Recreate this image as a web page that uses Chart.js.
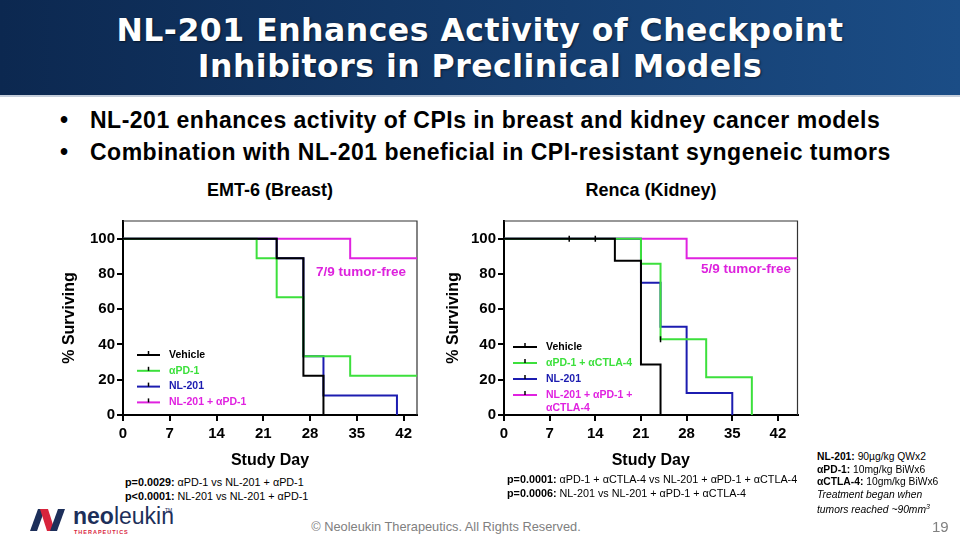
<!DOCTYPE html>
<html>
<head>
<meta charset="utf-8">
<script src="https://cdn.jsdelivr.net/npm/chart.js@4.4.0/dist/chart.umd.min.js"></script>
<style>
  body { margin: 0; width: 960px; height: 540px; position: relative; overflow: hidden; background: #fff;
         font-family: "Liberation Sans", Arial, sans-serif; }
  .abs { position: absolute; white-space: nowrap; }
  #header { left: 0; top: 0; width: 960px; height: 95px; background: linear-gradient(90deg, #0c2850, #1b4d86);
            border-bottom: 2px solid #c5cedb; }
  #title { left: 0; top: 12px; width: 960px; text-align: center; color: #fff; font-family: "DejaVu Sans", sans-serif;
           font-weight: bold; font-size: 31.5px; line-height: 36px; letter-spacing: 0.5px;
           text-shadow: 1px 1px 2px rgba(0, 0, 0, 0.55); }
  .bullet { left: 60px; font-weight: bold; font-size: 23px; line-height: 28px; letter-spacing: 0.5px; color: #000; }
  .bullet span { display: inline-block; width: 30px; }
  .ctitle { width: 300px; text-align: center; font-weight: bold; font-size: 18px; line-height: 22px; }
  .tf { font-weight: bold; font-size: 13.5px; line-height: 16px; color: #dd22dd; }
  .pv { font-size: 10.8px; line-height: 14px; color: #000; }
  .note { left: 817px; font-size: 10.3px; line-height: 12.5px; color: #000; }
  canvas { position: absolute; }
</style>
</head>
<body>
<div id="header" class="abs"></div>
<div id="title" class="abs">NL-201 Enhances Activity of Checkpoint<br>Inhibitors in Preclinical Models</div>

<div class="abs bullet" style="top:106px"><span>•</span>NL-201 enhances activity of CPIs in breast and kidney cancer models</div>
<div class="abs bullet" style="top:137.5px"><span>•</span>Combination with NL-201 beneficial in CPI-resistant syngeneic tumors</div>

<div class="abs ctitle" style="left:120px; top:179px">EMT-6 (Breast)</div>
<div class="abs ctitle" style="left:501px; top:179px">Renca (Kidney)</div>

<canvas id="emtChart" width="371" height="265" style="left:50px; top:210px"></canvas>
<canvas id="renChart" width="373" height="265" style="left:430px; top:210px"></canvas>

<div class="abs tf" style="left:316px; top:264px">7/9 tumor-free</div>
<div class="abs tf" style="left:701px; top:261px">5/9 tumor-free</div>

<div class="abs pv" style="left:125px; top:475px"><b>p=0.0029:</b> αPD-1 vs NL-201 + αPD-1</div>
<div class="abs pv" style="left:125px; top:489px"><b>p&lt;0.0001:</b> NL-201 vs NL-201 + αPD-1</div>
<div class="abs pv" style="left:507px; top:472px"><b>p=0.0001:</b> αPD-1 + αCTLA-4 vs NL-201 + αPD-1 + αCTLA-4</div>
<div class="abs pv" style="left:507px; top:486px"><b>p=0.0006:</b> NL-201 vs NL-201 + αPD-1 + αCTLA-4</div>

<div class="abs note" style="top:451px"><b>NL-201:</b> 90µg/kg QWx2</div>
<div class="abs note" style="top:463.5px"><b>αPD-1:</b> 10mg/kg BiWx6</div>
<div class="abs note" style="top:476px"><b>αCTLA-4:</b> 10gm/kg BiWx6</div>
<div class="abs note" style="top:488.5px"><i>Treatment began when</i></div>
<div class="abs note" style="top:501px"><i>tumors reached ~90mm<sup style="font-size:7px">3</sup></i></div>

<svg class="abs" style="left:28px; top:503px" width="150" height="34" viewBox="0 0 150 34">
  <polygon points="2,28 10,6 17,6 9,28" fill="#1d2f5a"/>
  <polygon points="12,6 20,6 27,28 19,28" fill="#d8243c"/>
  <polygon points="22,28 30,6 37,6 29,28" fill="#1d2f5a"/>
  <text x="45" y="21" font-family="Liberation Sans, Arial, sans-serif" font-size="23" fill="#1d2f5a" font-weight="bold">neo<tspan font-weight="normal">leukin</tspan></text>
  <text x="137" y="9" font-family="Liberation Sans, Arial, sans-serif" font-size="5" fill="#1d2f5a">TM</text>
  <text x="46" y="31" font-family="Liberation Sans, Arial, sans-serif" font-size="5.5" fill="#d8243c" font-weight="bold" letter-spacing="1">THERAPEUTICS</text>
</svg>
<div class="abs" style="left:0; width:892px; text-align:center; top:519px; font-size:12.8px; color:#808080">© Neoleukin Therapeutics. All Rights Reserved.</div>
<div class="abs" style="left:932px; top:518px; font-size:15px; color:#808080">19</div>

<script>
// shared axis ticks
const dayTicks = [0, 7, 14, 21, 28, 35, 42];
const survTicks = [0, 20, 40, 60, 80, 100];

// EMT-6 (Breast) - Kaplan-Meier steps
const emtLabels = ['Vehicle', 'αPD-1', 'NL-201', 'NL-201 + αPD-1'];
const emtVehicleDays = [0, 23, 27, 30];
const emtVehicleSurv = [100, 88.9, 22.2, 0];
const emtPd1Days = [0, 20, 23, 27, 34, 44];
const emtPd1Surv = [100, 88.9, 66.7, 33.3, 22.2, 22.2];
const emtNlDays = [0, 23, 27, 30, 41];
const emtNlSurv = [100, 88.9, 33.3, 11.1, 0];
const emtComboDays = [0, 34, 44];
const emtComboSurv = [100, 88.9, 88.9];

// Renca (Kidney)
const renLabels = ['Vehicle', 'αPD-1 + αCTLA-4', 'NL-201', ['NL-201 + αPD-1 +', 'αCTLA-4']];
const renVehicleDays = [0, 17, 21, 24];
const renVehicleSurv = [100, 87.5, 28.6, 0];
const renCpiDays = [0, 21, 24, 31, 38];
const renCpiSurv = [100, 85.7, 42.9, 21.4, 0];
const renNlDays = [0, 21, 24, 28, 35];
const renNlSurv = [100, 75, 50, 12.5, 0];
const renComboDays = [0, 28, 45];
const renComboSurv = [100, 88.9, 88.9];
// censored observations (tick marks)
const renCensorDays = [10, 14, 24];
const renCensorSurv = [100, 100, 42.9];

const colors = ['#000000', '#3ce03c', '#1c1cb0', '#e022e0'];
const FONT = '"Liberation Sans", Arial, sans-serif';

const toPoints = (days, surv) => days.map((d, i) => ({ x: d, y: surv[i] }));

// legend drawn inside the plot, GraphPad style
const kmLegend = {
  id: 'kmLegend',
  afterDatasetsDraw(chart, args, opts) {
    const { ctx, chartArea } = chart;
    ctx.save();
    ctx.font = 'bold 10.5px ' + FONT;
    ctx.textBaseline = 'middle';
    let y = chartArea.top + opts.top;
    chart.data.datasets.forEach(ds => {
      if (!ds.label) return;
      const x0 = chartArea.left + opts.lineStart;
      ctx.strokeStyle = ds.borderColor;
      ctx.lineWidth = 2;
      ctx.beginPath();
      ctx.moveTo(x0, y);
      ctx.lineTo(x0 + opts.lineLen, y);
      ctx.stroke();
      ctx.strokeStyle = '#000';
      ctx.lineWidth = 1.5;
      ctx.beginPath();
      ctx.moveTo(x0 + opts.lineLen / 2, y);
      ctx.lineTo(x0 + opts.lineLen / 2, y - 4);
      ctx.stroke();
      ctx.fillStyle = ds.borderColor;
      [].concat(ds.label).forEach((t, i) => ctx.fillText(t, chartArea.left + opts.textStart, y + i * 13));
      y += opts.step;
    });
    ctx.restore();
  }
};

// thin box round the plot
const plotFrame = {
  id: 'plotFrame',
  beforeDatasetsDraw(chart) {
    const { ctx, chartArea: a } = chart;
    ctx.save();
    ctx.strokeStyle = '#333';
    ctx.lineWidth = 1.2;
    ctx.beginPath();
    ctx.moveTo(a.left, a.top);
    ctx.lineTo(a.right, a.top);
    ctx.lineTo(a.right, a.bottom);
    ctx.stroke();
    ctx.restore();
  }
};

function kmChart(id, labels, series, censor, xMax, yWidth, yTitlePad, legendOpts) {
  const datasets = series.map((s, i) => ({
    label: labels[i],
    data: toPoints(s[0], s[1]),
    borderColor: colors[i],
    borderWidth: 2,
    stepped: 'before',
    pointRadius: 0,
    fill: false
  }));
  if (censor) {
    datasets.push({
      type: 'scatter',
      data: toPoints(censor[0], censor[1]),
      pointStyle: 'line',
      rotation: 90,
      radius: 3,
      borderColor: '#000',
      borderWidth: 1.5,
      order: -1
    });
  }
  return new Chart(document.getElementById(id), {
    type: 'line',
    data: { datasets },
    options: {
      responsive: false,
      animation: false,
      layout: { padding: { top: 8, right: 4, left: 0, bottom: 0 } },
      plugins: { legend: { display: false }, tooltip: { enabled: false }, kmLegend: legendOpts },
      scales: {
        x: {
          type: 'linear', min: 0, max: xMax,
          afterBuildTicks: scale => { scale.ticks = dayTicks.map(v => ({ value: v })); },
          afterFit: scale => { scale.height = 60; },
          ticks: { color: '#000', padding: 4, font: { family: FONT, size: 15, weight: 'bold' } },
          grid: { drawOnChartArea: false, drawTicks: true, tickLength: 6, color: '#000', lineWidth: 2 },
          border: { color: '#000', width: 2 },
          title: { display: true, text: 'Study Day', color: '#000', padding: { top: 0, bottom: 5 },
                   font: { family: FONT, size: 16, weight: 'bold' } }
        },
        y: {
          min: 0, max: 110,
          afterBuildTicks: scale => { scale.ticks = survTicks.map(v => ({ value: v })); },
          afterFit: scale => { scale.width = yWidth; },
          ticks: { color: '#000', padding: 2, font: { family: FONT, size: 15, weight: 'bold' } },
          grid: { drawOnChartArea: false, drawTicks: true, tickLength: 6, color: '#000', lineWidth: 2 },
          border: { color: '#000', width: 2 },
          title: { display: true, text: '% Surviving', color: '#000', padding: { top: yTitlePad, bottom: 0 },
                   font: { family: FONT, size: 16, weight: 'bold' } }
        }
      }
    },
    plugins: [plotFrame, kmLegend]
  });
}

kmChart('emtChart', emtLabels,
  [[emtVehicleDays, emtVehicleSurv], [emtPd1Days, emtPd1Surv], [emtNlDays, emtNlSurv], [emtComboDays, emtComboSurv]],
  null, 44, 73, 10, { top: 134, step: 15.8, lineStart: 14, lineLen: 23, textStart: 46 });

kmChart('renChart', renLabels,
  [[renVehicleDays, renVehicleSurv], [renCpiDays, renCpiSurv], [renNlDays, renNlSurv], [renComboDays, renComboSurv]],
  [renCensorDays, renCensorSurv], 45, 74, 14, { top: 126, step: 16, lineStart: 9, lineLen: 24, textStart: 42 });
</script>
</body>
</html>
